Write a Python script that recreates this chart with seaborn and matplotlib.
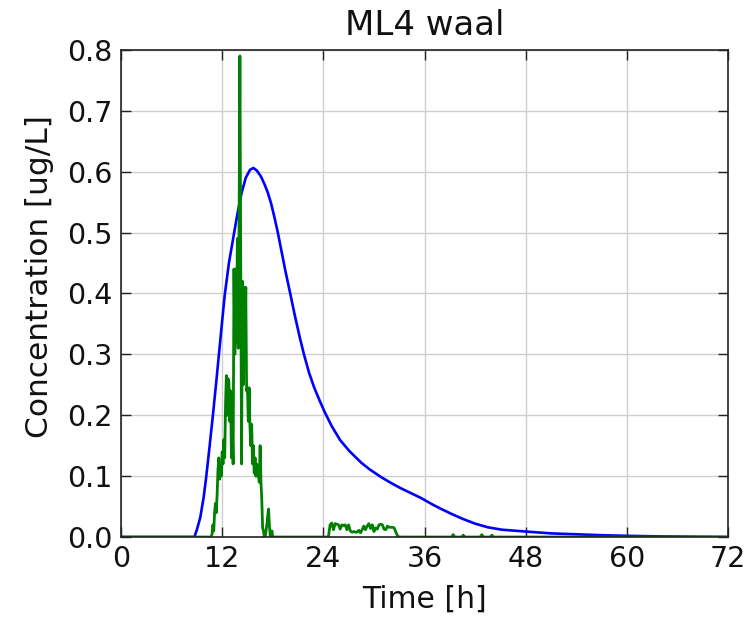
import matplotlib
matplotlib.use("Agg")
import matplotlib.pyplot as plt
import seaborn as sns
import pandas as pd

# ---- data ----
title = "ML4 waal"
x_label = "Time [h]"
y_label = "Concentration [ug/L]"
x_ticks = [0, 12, 24, 36, 48, 60, 72]
y_ticks = [0.0, 0.1, 0.2, 0.3, 0.4, 0.5, 0.6, 0.7, 0.8]

model_hours = [0, 8.7, 9.0, 9.4, 9.8, 10.1, 10.5, 10.9, 11.3, 11.6, 12.0, 12.3, 12.8,
               13.3, 13.8, 14.3, 14.8, 15.3, 15.7, 16.1, 16.6, 17.0, 17.4, 17.8, 18.2,
               18.6, 19.0, 19.5, 20.1, 20.6, 21.2, 21.7, 22.3, 22.9, 23.5, 24.2, 25.0,
               26.0, 27.1, 28.5, 29.5, 30.9, 32.0, 33.2, 34.4, 35.6, 37.0, 38.0, 39.2,
               40.5, 42.0, 43.5, 45.2, 48.0, 51.0, 54.0, 57.0, 60.0, 64.0, 68.0, 72.0]
model_conc = [0, 0, 0.012, 0.032, 0.065, 0.098, 0.148, 0.2, 0.255, 0.298, 0.355, 0.397,
              0.45, 0.49, 0.53, 0.565, 0.59, 0.603, 0.606, 0.602, 0.592, 0.58, 0.566,
              0.548, 0.525, 0.5, 0.472, 0.437, 0.398, 0.365, 0.328, 0.3, 0.27, 0.246,
              0.226, 0.204, 0.182, 0.159, 0.141, 0.122, 0.111, 0.098, 0.089, 0.08, 0.072,
              0.064, 0.053, 0.046, 0.038, 0.03, 0.022, 0.016, 0.012, 0.009, 0.006,
              0.0045, 0.003, 0.002, 0.001, 0.0005, 0.0]

meas_hours = [0, 10.7, 10.8, 10.9, 11.0, 11.1, 11.2, 11.3, 11.4, 11.5, 11.6, 11.7, 11.8,
              11.9, 12.0, 12.1, 12.2, 12.3, 12.4, 12.5, 12.6, 12.7, 12.8, 12.9, 13.0,
              13.1, 13.2, 13.3, 13.4, 13.5, 13.6, 13.7, 13.8, 13.9, 14.0, 14.1, 14.2,
              14.3, 14.4, 14.5, 14.6, 14.7, 14.8, 14.9, 15.0, 15.1, 15.2, 15.3, 15.4,
              15.5, 15.6, 15.7, 15.8, 15.9, 16.0, 16.1, 16.2, 16.3, 16.4, 16.5, 16.6,
              16.7, 16.8, 16.9, 17.0, 17.1, 17.2, 17.3, 17.4, 17.5, 17.6, 17.7, 17.8,
              17.9, 18.0,
              24.6, 24.8, 25.0, 25.2, 25.4, 25.6, 25.8, 26.0, 26.2, 26.4, 26.6, 26.8,
              27.0, 27.2, 27.4, 27.6, 27.8, 28.0, 28.2, 28.4, 28.6, 28.8, 29.0, 29.2,
              29.4, 29.6, 29.8, 30.0, 30.2, 30.4, 30.6, 30.8, 31.0, 31.2, 31.4, 31.6,
              31.8, 32.0, 32.2, 32.4, 32.6, 32.8, 33.0,
              39.2, 39.4, 39.6, 40.4, 40.6, 40.8, 42.6, 42.8, 43.0, 43.8, 44.0, 44.2,
              72.0]
meas_conc = [0, 0, 0.005, 0.02, 0.01, 0.04, 0.055, 0.04, 0.07, 0.11, 0.13, 0.095, 0.115,
             0.10, 0.14, 0.12, 0.16, 0.13, 0.22, 0.265, 0.20, 0.26, 0.255, 0.19, 0.24,
             0.13, 0.18, 0.12, 0.44, 0.30, 0.44, 0.32, 0.49, 0.31, 0.50, 0.79, 0.46,
             0.12, 0.42, 0.25, 0.41, 0.30, 0.41, 0.24, 0.245, 0.19, 0.245, 0.18, 0.15,
             0.185, 0.12, 0.15, 0.105, 0.13, 0.10, 0.12, 0.10, 0.105, 0.09, 0.15, 0.09,
             0.06, 0.015, 0.01, 0.0, 0.0, 0.01, 0.02, 0.035, 0.046, 0.02, 0.0, 0.005,
             0.01, 0.0,
             0, 0.02, 0.023, 0.012, 0.022, 0.021, 0.02, 0.013, 0.02, 0.019, 0.02, 0.012,
             0.02, 0.01, 0.008, 0.009, 0.008, 0.008, 0.011, 0.007, 0.012, 0.018, 0.012,
             0.018, 0.022, 0.014, 0.02, 0.009, 0.015, 0.013, 0.02, 0.021, 0.02, 0.013,
             0.012, 0.018, 0.016, 0.016, 0.016, 0.015, 0.008, 0.002, 0.0,
             0.0, 0.004, 0.0, 0.0, 0.003, 0.0, 0.0, 0.004, 0.0, 0.0, 0.003, 0.0,
             0.0]

model_df = pd.DataFrame({"hour": model_hours, "conc": model_conc})
meas_df = pd.DataFrame({"hour": meas_hours, "conc": meas_conc})

sns.set_style("white")
plt.rcParams["font.family"] = ["DejaVu Sans"]

fig = plt.figure(figsize=(7.54, 6.23), dpi=100)
ax = fig.add_axes([0.1605, 0.138, 0.805, 0.782])

sns.lineplot(data=model_df, x="hour", y="conc", color="#0000ff", linewidth=1.9,
             estimator=None, sort=False, ax=ax)
sns.lineplot(data=meas_df, x="hour", y="conc", color="#008000", linewidth=2.0,
             estimator=None, sort=False, ax=ax)

ax.set_xlim(0, 72)
ax.set_ylim(0, 0.8)
ax.set_xticks(x_ticks)
ax.set_yticks(y_ticks)
ax.set_xticklabels([str(t) for t in x_ticks])
ax.set_yticklabels([f"{t:.1f}" for t in y_ticks])
ax.grid(True, color="#cfcfcf", linewidth=1.0, linestyle="-")
ax.set_axisbelow(True)
for s in ax.spines.values():
    s.set_color("#222222")
    s.set_linewidth(1.2)
    s.set_visible(True)
ax.tick_params(direction="in", length=7, width=1.0, top=True, right=True,
               bottom=True, left=True, labelsize=20.5, colors="#222222",
               labelcolor="#111111", pad=6)
ax.set_xlabel(x_label, fontsize=21.5, color="#111111", labelpad=8)
ax.set_ylabel(y_label, fontsize=22.5, color="#111111")
ax.yaxis.set_label_coords(-0.11, 0.535)
ax.set_title(title, fontsize=24.5, color="#111111", pad=11)

fig.savefig("out.png", dpi=100, facecolor="white")
